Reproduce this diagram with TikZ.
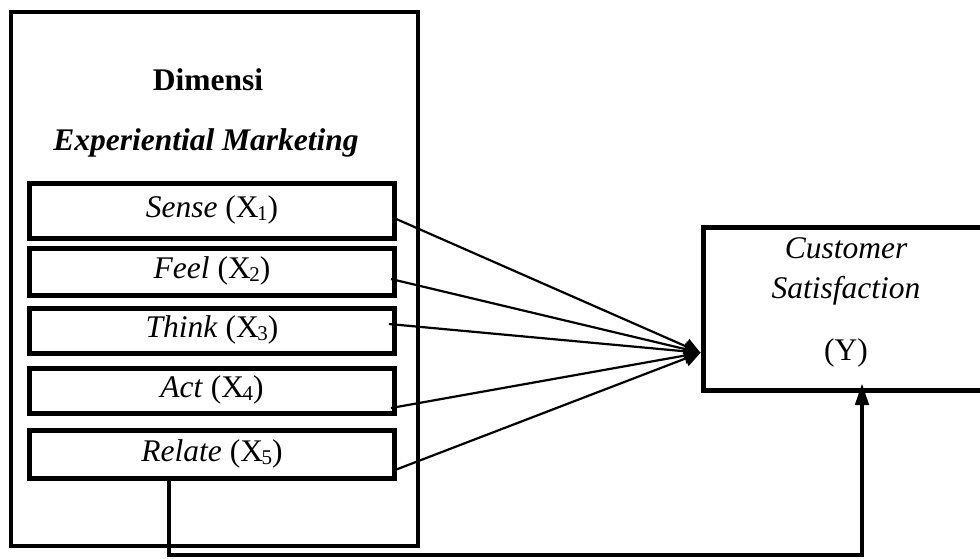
\documentclass[tikz,border=0pt]{standalone}
\usepackage{fontspec}
\setmainfont{Liberation Serif}
\usetikzlibrary{arrows.meta}
\newcommand{\mysubs}[1]{\kern-1.5pt\raisebox{-3pt}{\fontsize{21}{21}\selectfont #1}}
\tikzset{
  txt/.style={font=\fontsize{31.5}{38}\selectfont, inner sep=0pt, anchor=base},
  dimbox/.style={draw, line width=5pt, minimum width=365pt, text height=20pt, text depth=6pt,
                 inner sep=0pt, font=\fontsize{31.5}{38}\selectfont},
  fan/.style={line width=2.2pt, -{Triangle[length=16pt,width=16pt]}},
  rail/.style={line width=4.5pt, -{Triangle[length=22pt,width=13pt]}}
}
\begin{document}
\begin{tikzpicture}[x=1pt, y=-1pt]
\useasboundingbox (0,0) rectangle (980,558);
\clip (0,0) rectangle (980,558);
% outer frame
\node[draw, line width=4pt, minimum width=407.5pt, minimum height=533.5pt, inner sep=0pt] (outer) at (214.25,278.75) {};
\node[txt, font=\fontsize{31.5}{38}\selectfont\bfseries] (dim) at (208,90) {Dimensi};
\node[txt, font=\fontsize{31.5}{38}\selectfont\bfseries\itshape] (exp) at (206,150) {Experiential Marketing};
% dimension boxes
\node[dimbox, minimum height=55pt] (sense)  at (212,210.5) {\textit{Sense} (X\mysubs{1})};
\node[dimbox, minimum height=47pt] (feel)   at (212,271.5) {\textit{Feel} (X\mysubs{2})};
\node[dimbox, minimum height=45pt] (think)  at (212,330.5) {\textit{Think} (X\mysubs{3})};
\node[dimbox, minimum height=45pt] (act)    at (212,390.5) {\textit{Act} (X\mysubs{4})};
\node[dimbox, minimum height=48pt] (relate) at (212,454)   {\textit{Relate} (X\mysubs{5})};
% Y box
\node[draw, line width=5pt, minimum width=286pt, minimum height=162.5pt, inner sep=0pt] (ybox) at (846,308.75) {};
\node[txt, font=\fontsize{31.5}{38}\selectfont\itshape] (cust) at (846,258) {Customer};
\node[txt, font=\fontsize{31.5}{38}\selectfont\itshape] (satis) at (846,298) {Satisfaction};
\node[txt] (yl) at (846,360) {(Y)};
% fan connectors
\coordinate (hub) at ([yshift=-44pt]ybox.west);
\draw[fan] ([xshift=-3pt,yshift=-7.5pt]sense.east) -- (hub);
\draw[fan] ([xshift=-6pt,yshift=-7.5pt]feel.east) -- (hub);
\draw[fan] ([xshift=-8pt,yshift=6.5pt]think.east) -- (hub);
\draw[fan] ([xshift=-6pt,yshift=-17.5pt]act.east) -- (hub);
\draw[fan] ([xshift=-2pt,yshift=-16pt]relate.east) -- (hub);
% bottom connector
\coordinate (railpt) at (500,555);
\draw[rail] ([xshift=-43pt]relate.south) |- (railpt) -| ([xshift=16pt,yshift=9.5pt]ybox.south);
\end{tikzpicture}
\end{document}
